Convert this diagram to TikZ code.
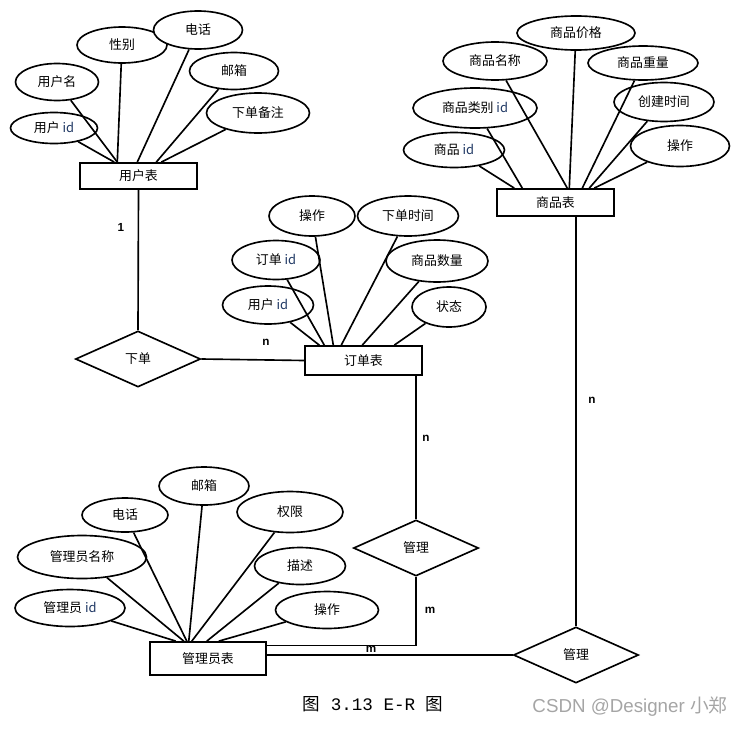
\documentclass[tikz,border=0pt]{standalone}
\usepackage{fontspec}
\setmainfont{Noto Sans CJK SC}
\newfontfamily\capmono{Liberation Mono}
\newfontfamily\capcjk{Noto Sans CJK SC}
\newfontfamily\latinsans{Liberation Sans}
\usetikzlibrary{shapes.geometric,calc}
\definecolor{idblue}{RGB}{31,56,100}
\definecolor{wmgray}{RGB}{165,165,165}
\newcommand{\idtext}{\textcolor{idblue}{id}}
\begin{document}
\begin{tikzpicture}[x=0.03cm, y=-0.03cm, line width=1.4pt,
    every node/.style={font=\fontsize{11}{13}\selectfont},
    entity/.style={draw, rectangle, line width=1.5pt, minimum width=3.5cm, inner sep=0pt},
    attr/.style 2 args={draw, ellipse, fill=white, inner sep=0pt, minimum width=#1cm, minimum height=#2cm},
    rel/.style={draw, diamond, fill=white, inner sep=0pt, minimum width=3.75cm, minimum height=1.68cm},
    card/.style={font=\latinsans\fontsize{10}{12}\selectfont\bfseries}]
    \useasboundingbox (0,0) rectangle (741,728);
    % entities
    \node[entity, minimum height=0.78cm] (user) at (138.5,176) {用户表};
    \node[entity, minimum height=0.81cm] (goods) at (555.5,202.5) {商品表};
    \node[entity, minimum height=0.87cm] (order) at (363.5,360.5) {订单表};
    \node[entity, minimum height=0.99cm] (admin) at (208,658.5) {管理员表};
    % relations
    \node[rel] (place) at (138,359) {下单};
    \node[rel] (manage1) at (416,548) {管理};
    \node[rel] (manage2) at (576,655) {管理};
    % user attributes
    \node[attr={2.61}{0.93}] (uid) at (54,128) {用户 \idtext};
    \node[attr={2.49}{1.11}] (uname) at (57,82) {用户名};
    \node[attr={2.7}{1.08}] (usex) at (122,45) {性别};
    \node[attr={2.67}{1.14}] (utel) at (198,30) {电话};
    \node[attr={2.67}{1.11}] (umail) at (234,71) {邮箱};
    \node[attr={3.09}{1.2}] (unote) at (258,113) {下单备注};
    % goods attributes
    \node[attr={3.54}{1.02}] (gprice) at (576,33) {商品价格};
    \node[attr={3.12}{1.14}] (gname) at (495,61) {商品名称};
    \node[attr={3.3}{1.02}] (gweight) at (643,63) {商品重量};
    \node[attr={3.72}{1.2}] (gcat) at (475,108) {商品类别 \idtext};
    \node[attr={3.0}{1.17}] (gtime) at (664,102) {创建时间};
    \node[attr={3.03}{1.05}] (gid) at (454,150) {商品 \idtext};
    \node[attr={2.97}{1.23}] (gop) at (680,146) {操作};
    % order attributes
    \node[attr={2.58}{1.2}] (oop) at (312,216) {操作};
    \node[attr={3.03}{1.2}] (otime) at (408,216) {下单时间};
    \node[attr={2.64}{1.17}] (oid) at (276,260) {订单 \idtext};
    \node[attr={3.06}{1.26}] (onum) at (437,261) {商品数量};
    \node[attr={2.73}{1.14}] (ouid) at (268,305) {用户 \idtext};
    \node[attr={2.22}{1.2}] (ostate) at (449,307) {状态};
    % admin attributes
    \node[attr={2.7}{1.14}] (amail) at (204,486) {邮箱};
    \node[attr={2.58}{1.02}] (atel) at (125,515) {电话};
    \node[attr={3.18}{1.23}] (aright) at (290,512) {权限};
    \node[attr={3.87}{1.29}] (aname) at (82,557) {管理员名称};
    \node[attr={2.73}{1.11}] (adesc) at (300,566) {描述};
    \node[attr={3.3}{1.11}] (aid) at (70,608) {管理员 \idtext};
    \node[attr={3.09}{1.11}] (aop) at (327,610) {操作};
    % attribute links
    \foreach \a/\dx in {uid/35, uname/38, usex/38, utel/58, umail/77, unote/82}
        \draw (\a) -- ($(user.north west)+(\dx,0)$);
    \foreach \a/\dx in {gid/18, gcat/26, gname/71, gprice/73, gweight/86, gtime/93, gop/98}
        \draw (\a) -- ($(goods.north west)+(\dx,0)$);
    \foreach \a/\dx in {ouid/15, oid/20, oop/29, otime/37, onum/58, ostate/90}
        \draw (\a) -- ($(order.north west)+(\dx,0)$);
    \foreach \a/\dx in {aid/27, aname/35, atel/38, amail/40, aright/43, adesc/58, aop/70}
        \draw (\a) -- ($(admin.north west)+(\dx,0)$);
    % relation links
    \draw (user.south) -- (place.north);
    \draw (place.east) -- (order.west);
    \draw (manage1.north) -- (manage1.north |- order.south);
    \draw (manage1.south) |- ($(admin.east)+(0,-13)$);
    \draw (admin.east |- manage2) -- (manage2.west);
    \draw (manage2.north) -- (manage2.north |- goods.south);
    % cardinalities
    \node[card] (c1) at (121,227) {1};
    \node[card] (c2) at (266,342) {n};
    \node[card] (c3) at (426,438) {n};
    \node[card] (c4) at (430,610) {m};
    \node[card] (c5) at (371,649) {m};
    \node[card] (c6) at (592,400) {n};
    % caption
    \node[font=\fontsize{15}{18}\selectfont] (cap) at (373,704) {图{\capmono\ 3.13 E-R\ }图};
    \node[text=wmgray, font=\latinsans\fontsize{16}{18}\selectfont] (wm) at (630,707) {CSDN @Designer {\capcjk 小郑}};
\end{tikzpicture}
\end{document}
